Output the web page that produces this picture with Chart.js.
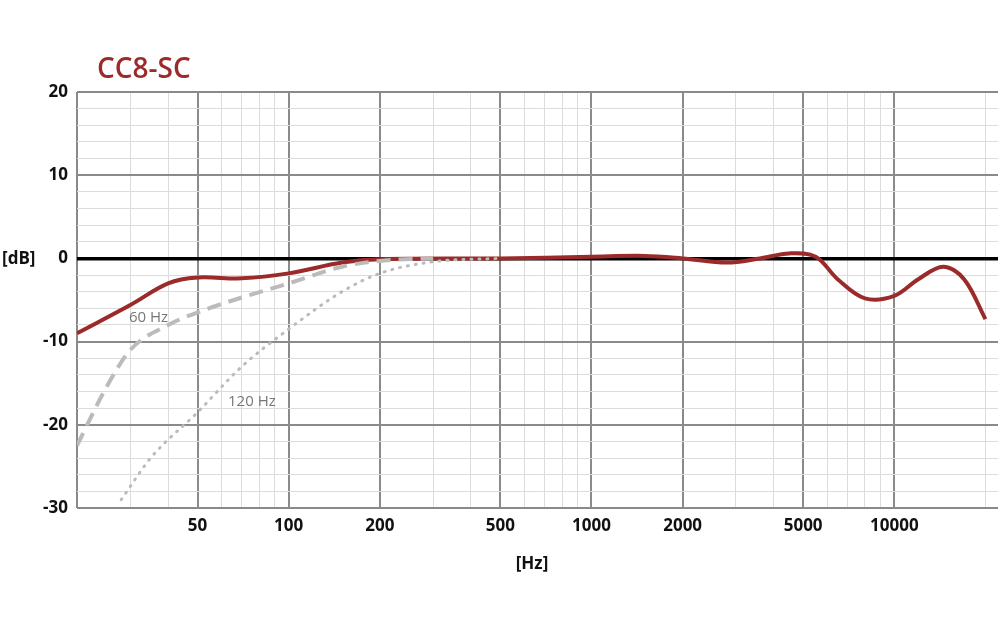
<!DOCTYPE html>
<html>
<head>
<meta charset="utf-8">
<script src="https://cdn.jsdelivr.net/npm/chart.js@4"></script>
<style>
  body { margin: 0; background: #fff; }
  #wrap { width: 998px; height: 628px; }
</style>
</head>
<body>
<div id="wrap"><canvas id="chart"></canvas></div>
<script>
// CC8-SC frequency response
const mainFreq = [20, 30, 40, 50, 70, 100, 150, 200, 500, 1000, 1500, 2000, 2800, 3600, 4500, 5500, 6500, 8000, 10000, 12000, 14500, 17000, 20000];
const mainDb   = [-9, -5.6, -3, -2.3, -2.4, -1.8, -0.5, -0.1, 0, 0.2, 0.3, 0, -0.5, 0, 0.6, 0.2, -2.5, -4.8, -4.5, -2.5, -1, -2.5, -7.3];

const lowcut60Freq = [20, 25, 30, 40, 50, 70, 100, 150, 200, 300];
const lowcut60Db   = [-22.5, -15.5, -11, -8, -6.5, -4.7, -3, -1, -0.3, 0];

const lowcut120Freq = [28, 35, 50, 70, 100, 150, 200, 300, 500];
const lowcut120Db   = [-29, -24, -18.5, -13, -8.5, -4, -1.8, -0.4, 0];

const xTicks = [20, 30, 40, 50, 60, 70, 80, 90, 100, 200, 300, 400, 500, 600, 700, 800, 900, 1000,
  2000, 3000, 4000, 5000, 6000, 7000, 8000, 9000, 10000, 20000];
const xMajor = [20, 50, 100, 200, 500, 1000, 2000, 5000, 10000];
const xLabels = [50, 100, 200, 500, 1000, 2000, 5000, 10000];

const red = '#9b2a2a';

function pts(xs, ys) { return xs.map((x, i) => ({ x: x, y: ys[i] })); }

const textPlugin = {
  id: 'texts',
  afterDraw(chart) {
    const c = chart.ctx;
    c.save();
    c.fillStyle = red;
    c.font = '600 28px "Open Sans", Lato, sans-serif';
    c.textBaseline = 'middle';
    c.fillText('CC8-SC', 97, 70);
    c.fillStyle = '#111';
    c.font = 'bold 17px "Open Sans", sans-serif';
    c.fillText('[dB]', 2, 259);
    c.textAlign = 'center';
    c.fillText('[Hz]', 532, 564);
    c.textAlign = 'left';
    c.fillStyle = '#777';
    c.font = '15px "Open Sans", sans-serif';
    c.fillText('60 Hz', 129, 318);
    c.fillText('120 Hz', 228, 402);
    c.restore();
  }
};

new Chart(document.getElementById('chart'), {
  type: 'line',
  data: {
    datasets: [
      { data: pts(lowcut120Freq, lowcut120Db), borderColor: '#bbb', borderWidth: 3, borderDash: [1, 7], borderCapStyle: 'round', pointRadius: 0, cubicInterpolationMode: 'monotone' },
      { data: pts(lowcut60Freq, lowcut60Db), borderColor: '#bbb', borderWidth: 4, borderDash: [14, 8], pointRadius: 0, cubicInterpolationMode: 'monotone' },
      { data: pts(mainFreq, mainDb), borderColor: red, borderWidth: 4, pointRadius: 0, tension: 0.35 }
    ]
  },
  options: {
    responsive: true,
    maintainAspectRatio: false,
    animation: false,
    layout: { padding: { top: 92, right: 0, left: 0, bottom: 0 } },
    plugins: { legend: { display: false }, tooltip: { enabled: false } },
    scales: {
      x: {
        type: 'logarithmic',
        min: 20,
        max: 22000,
        afterBuildTicks: s => { s.ticks = xTicks.map(v => ({ value: v })); },
        afterFit: s => { s.height = 120; },
        border: { display: false },
        grid: {
          drawTicks: false,
          color: ctx => xMajor.includes(ctx.tick.value) ? '#8a8a8a' : '#dcdcdc',
          lineWidth: ctx => xMajor.includes(ctx.tick.value) ? 2 : 1
        },
        ticks: {
          autoSkip: false,
          maxRotation: 0,
          padding: 8,
          color: '#111',
          font: { family: '"Open Sans", sans-serif', size: 17, weight: 'bold' },
          callback: v => xLabels.includes(v) ? String(v) : ''
        }
      },
      y: {
        min: -30,
        max: 20,
        afterBuildTicks: s => {
          const t = [];
          for (let v = -30; v <= 20; v += 2) t.push({ value: v });
          s.ticks = t;
        },
        afterFit: s => { s.width = 77; },
        border: { display: false },
        grid: {
          drawTicks: false,
          color: ctx => ctx.tick.value === 0 ? '#000' : (ctx.tick.value % 10 === 0 ? '#8a8a8a' : '#dcdcdc'),
          lineWidth: ctx => ctx.tick.value === 0 ? 3.5 : (ctx.tick.value % 10 === 0 ? 2 : 1)
        },
        ticks: {
          autoSkip: false,
          padding: 9,
          color: '#111',
          font: { family: '"Open Sans", sans-serif', size: 17, weight: 'bold' },
          callback: v => v % 10 === 0 ? String(v) : ''
        }
      }
    }
  },
  plugins: [textPlugin]
});
</script>
</body>
</html>
